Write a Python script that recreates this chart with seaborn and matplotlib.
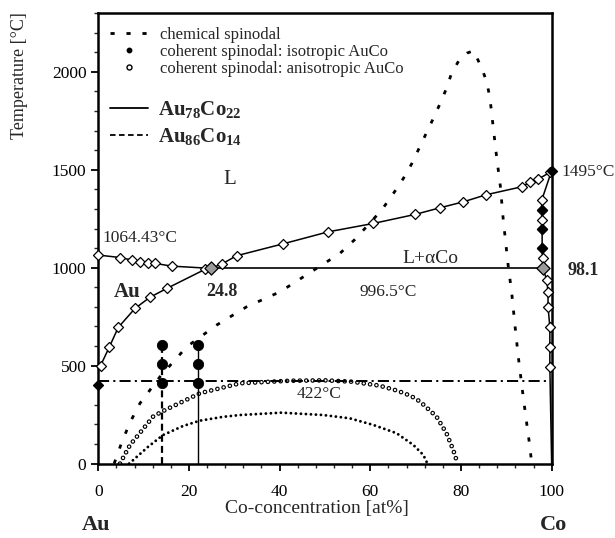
import matplotlib
matplotlib.use("Agg")
import matplotlib.pyplot as plt
import seaborn as sns
from matplotlib.lines import Line2D
from matplotlib.ticker import MultipleLocator

# --- liquidus / solidus (Au side) ---
au_liq_c = [0, 4.8, 7.4, 9.2, 11.0, 12.5, 16.2, 24.8]
au_liq_t = [1064.43, 1052, 1039, 1030, 1025, 1022, 1008, 996.5]
au_sol_c = [0.5, 2.4, 4.4, 8.1, 11.4, 15.1, 23.5, 24.8]
au_sol_t = [500, 593, 695, 792, 849, 894, 991, 996.5]

# --- liquidus towards Co ---
liq_c = [24.8, 27.2, 30.5, 40.8, 50.7, 60.7, 69.9, 75.4, 80.5, 85.5, 93.4, 95.2, 97.0, 99.6, 100]
liq_t = [996.5, 1018, 1061, 1122, 1183, 1226, 1272, 1306, 1336, 1372, 1413, 1435, 1452, 1486, 1495]

# --- Co side solidus / solvus ---
co_c = [100, 97.8, 97.8, 97.8, 97.9, 97.9, 98.0, 98.1, 98.9, 99.2, 99.2, 99.6, 99.6, 99.6, 100]
co_t = [1495, 1344, 1294, 1243, 1200, 1098, 1047, 996.5, 937, 877, 800, 698, 596, 494, 0]

# filled diamonds and the two eutectic (grey) points
filled_c = [0, 97.8, 97.9, 97.9, 100]
filled_t = [400, 1294, 1200, 1098, 1495]
eut_c = [24.8, 98.1]
eut_t = [996.5, 996.5]

# 422 C line
mono_c = [0, 99.5]
mono_t = [422, 422]

# chemical spinodal
chem_c = [3.5, 5.2, 7.0, 9.2, 13.6, 19.5, 26.1, 32.7, 40.1, 53.3, 56.6, 62.5, 65.1, 67.3,
          69.1, 73.9, 75.4, 76.8, 77.9, 79.8, 81.3, 82.8, 84.6, 85.7, 86.4, 87.1, 87.9,
          88.7, 89.3, 90.4, 91.2, 91.9, 92.6, 93.4, 94.3, 95.2, 95.6]
chem_t = [0, 110, 210, 308, 443, 596, 707, 800, 877, 1073, 1144, 1294, 1379, 1456,
          1529, 1762, 1838, 1915, 1991, 2068, 2095, 2108, 2017, 1948, 1864, 1719, 1558,
          1413, 1251, 1013, 869, 707, 554, 401, 239, 86, 0]

# coherent spinodal, isotropic
iso_c = [6.8, 7.7, 11.0, 14.3, 18.7, 22.4, 27.6, 31.3, 40.4, 49.6, 55.5, 60.7, 65.8, 69.5, 71.7, 72.6]
iso_t = [0, 18, 86, 146, 192, 219, 239, 248, 260, 248, 231, 197, 155, 95, 44, 0]

# coherent spinodal, anisotropic
aniso_c = [4.8, 5.2, 7.0, 8.5, 12.1, 14.0, 22.4, 31.3, 42.3, 50.0, 56.0, 62.0, 66.0, 69.0, 71.0, 74.6, 76.8, 78.3, 79.0, 79.3]
aniso_t = [0, 18, 95, 137, 240, 265, 359, 410, 423, 425, 418, 398, 372, 345, 316, 240, 155, 69, 18, 0]

# alloys Au86Co14 and Au78Co22
alloy_c = [14, 22]
alloy_line_t = [0, 605]
alloy_pts_t = [412, 506, 605]

sns.set_theme(style="ticks")
plt.rcParams['font.family'] = ['Liberation Serif', 'DejaVu Serif']
plt.rcParams['mathtext.fontset'] = 'custom'
plt.rcParams['mathtext.rm'] = 'Liberation Serif'
plt.rcParams['mathtext.bf'] = 'Liberation Serif:bold'
plt.rcParams['lines.scale_dashes'] = False

fig = plt.figure(figsize=(6.15, 5.38), dpi=100)
ax = fig.add_axes([0.1598, 0.1383, 0.7372, 0.8375])

chem_ls = (0, (3.0, 8.5))
dot_ls = (0, (0.01, 3.6))
ring_ls = (0, (0.01, 4.6))
alloy14_ls = (0, (5.0, 3.0))
mono_ls = (0, (8.0, 3.0, 1.5, 3.0))


def line(x, y, **kw):
    sns.lineplot(x=x, y=y, ax=ax, sort=False, estimator=None, color='black', **kw)


# spinodals
line(chem_c, chem_t, linewidth=2.0, linestyle=chem_ls, zorder=2)
line(iso_c, iso_t, linewidth=2.1, linestyle=dot_ls, dash_capstyle='round', zorder=2)
line(aniso_c, aniso_t, linewidth=3.4, linestyle=ring_ls, dash_capstyle='round', zorder=2)
line(aniso_c, aniso_t, linewidth=1.7, linestyle=ring_ls, dash_capstyle='round', zorder=2.1)
ax.lines[-1].set_color('white')

# phase boundaries
line(au_liq_c, au_liq_t, linewidth=1.1, zorder=3)
line(au_sol_c, au_sol_t, linewidth=1.1, zorder=3)
line(liq_c, liq_t, linewidth=1.1, zorder=3)
line(co_c, co_t, linewidth=1.1, zorder=3)
line(eut_c, eut_t, linewidth=1.2, zorder=3)
line(mono_c, mono_t, linewidth=1.4, linestyle=mono_ls, zorder=3)

# alloys
line([alloy_c[0]] * 2, alloy_line_t, linewidth=1.6, linestyle=alloy14_ls, zorder=3)
line([alloy_c[1]] * 2, alloy_line_t, linewidth=1.0, zorder=3)
for c in alloy_c:
    sns.scatterplot(x=[c] * len(alloy_pts_t), y=alloy_pts_t, ax=ax, marker='o', s=55,
                    color='black', edgecolor='black', zorder=5, clip_on=False)

# diamonds
open_c = au_liq_c[:-1] + au_sol_c[:-1] + liq_c[1:-1] + co_c[1:-1]
open_t = au_liq_t[:-1] + au_sol_t[:-1] + liq_t[1:-1] + co_t[1:-1]
sns.scatterplot(x=open_c, y=open_t, ax=ax, marker='D', s=26, color='white',
                edgecolor='black', linewidth=0.9, zorder=4, clip_on=False)
sns.scatterplot(x=filled_c, y=filled_t, ax=ax, marker='D', s=26, color='black',
                edgecolor='black', linewidth=0.9, zorder=4.5, clip_on=False)
sns.scatterplot(x=eut_c, y=eut_t, ax=ax, marker='D', s=45, color='#9a9a9a',
                edgecolor='black', linewidth=0.9, zorder=4.6, clip_on=False)

# axes
ax.set_xlim(0, 100)
ax.set_ylim(0, 2300)
ax.xaxis.set_major_locator(MultipleLocator(20))
ax.xaxis.set_minor_locator(MultipleLocator(4))
ax.yaxis.set_major_locator(MultipleLocator(500))
ax.yaxis.set_minor_locator(MultipleLocator(100))
ax.tick_params(which='major', direction='out', length=5, width=1.3, labelsize=12.5, colors='black')
ax.tick_params(which='minor', direction='out', length=3, width=1.0)
ax.tick_params(axis='x', pad=10)
for s in ax.spines.values():
    s.set_linewidth(1.8)
    s.set_color('black')
    s.set_visible(True)
ax.set_xlabel('Co-concentration [at%]', fontsize=14, labelpad=3)
ax.xaxis.set_label_coords(0.482, -0.1)
ax.xaxis.label.set_va('center')
ax.text(-0.173, 0.862, 'Temperature [°C]', transform=ax.transAxes, rotation=90,
        ha='center', va='center', fontsize=13)

# texts
xt = ax.get_xaxis_transform()
ax.text(-0.5, -0.136, 'Au', transform=xt, ha='center', va='center', fontsize=16, fontweight='bold')
ax.text(100.5, -0.136, 'Co', transform=xt, ha='center', va='center', fontsize=16, fontweight='bold')
ax.text(1, 1150, '1064.43°C', ha='left', va='center', fontsize=12.5)
ax.text(29, 1450, 'L', ha='center', va='center', fontsize=15)
ax.text(6.3, 877, 'Au', ha='center', va='center', fontsize=15, fontweight='bold')
ax.text(27.2, 877, '24.8', ha='center', va='center', fontsize=13, fontweight='bold')
ax.text(64, 877, '996.5°C', ha='center', va='center', fontsize=12.5)
ax.text(73.2, 1045, 'L+αCo', ha='center', va='center', fontsize=14)
ax.text(107, 987, '98.1', ha='center', va='center', fontsize=13, fontweight='bold', clip_on=False)
ax.text(102.1, 1489, '1495°C', ha='left', va='center', fontsize=12.5, clip_on=False)
ax.text(48.7, 355, '422°C', ha='center', va='center', fontsize=12.5)

# legends
h1 = [Line2D([], [], color='black', linewidth=2.0, linestyle=chem_ls),
      Line2D([], [], color='black', linestyle='none', marker='o', markersize=3.2),
      Line2D([], [], color='black', linestyle='none', marker='o', markersize=3.6,
             markerfacecolor='white', markeredgewidth=1.0)]
l1 = ax.legend(h1, ['chemical spinodal', 'coherent spinodal: isotropic AuCo',
                    'coherent spinodal: anisotropic AuCo'],
               loc='upper left', bbox_to_anchor=(0.026, 0.97), frameon=False,
               fontsize=12, handlelength=2.3, handletextpad=0.7, labelspacing=0.08,
               borderpad=0, borderaxespad=0)
ax.add_artist(l1)
h2 = [Line2D([], [], color='black', linewidth=1.3),
      Line2D([], [], color='black', linewidth=1.3, linestyle=(0, (4.0, 2.5)))]
ax.legend(h2, [r'$\mathbf{Au_{78}Co_{22}}$', r'$\mathbf{Au_{86}Co_{14}}$'],
          loc='upper left', bbox_to_anchor=(0.026, 0.809), frameon=False,
          fontsize=15, handlelength=1.8, handletextpad=0.5, labelspacing=0.3,
          borderpad=0, borderaxespad=0)

fig.savefig('out.png', dpi=100)
